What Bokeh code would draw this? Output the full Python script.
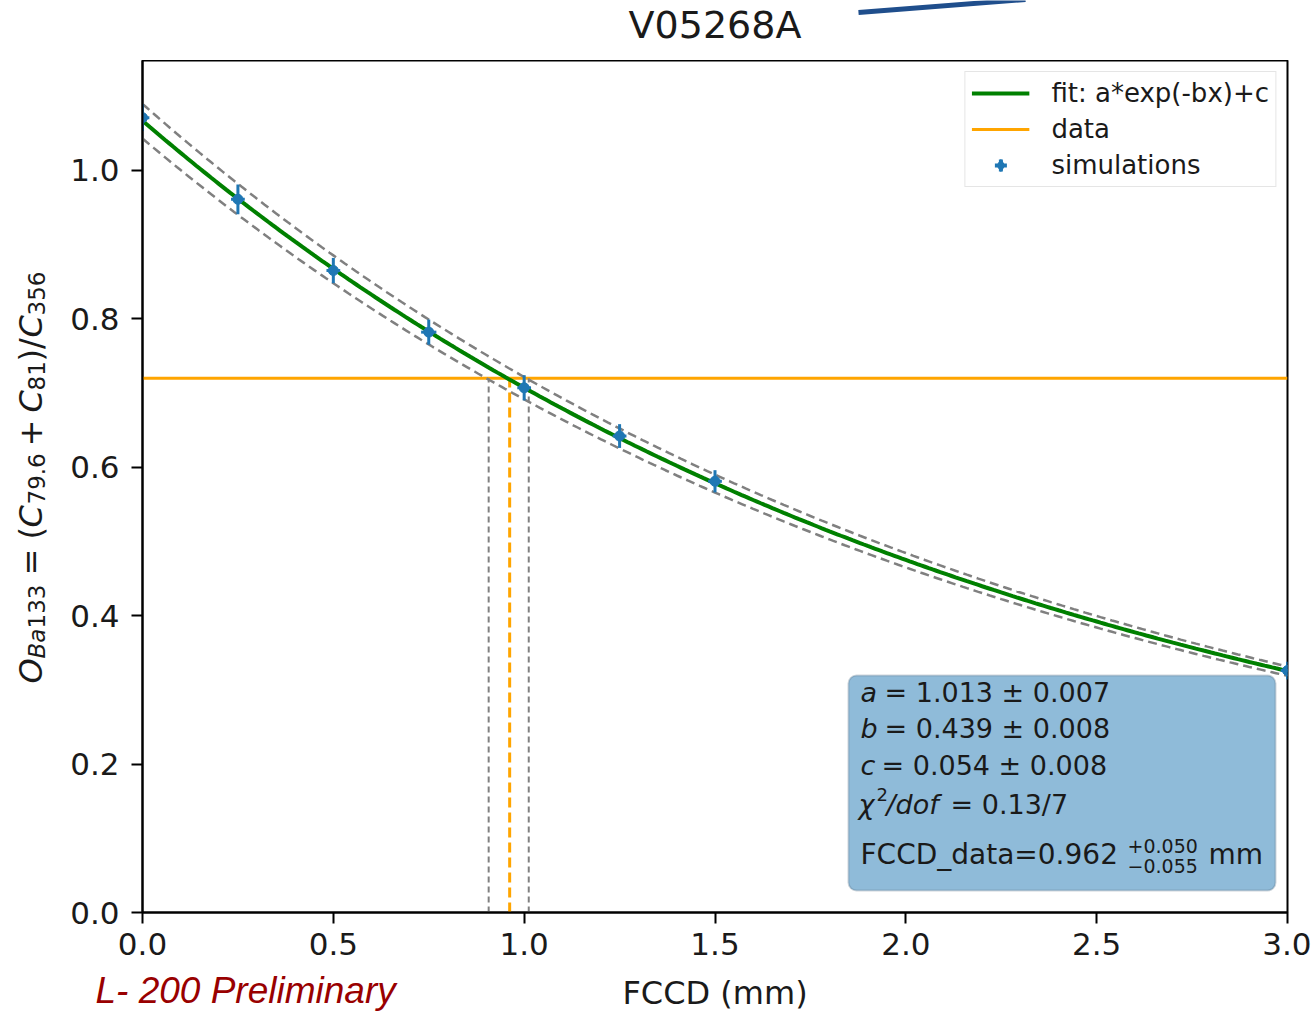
import numpy as np
from bokeh.plotting import figure
from bokeh.layouts import column, row
from bokeh.models import (Label, BoxAnnotation, Legend, LegendItem, FixedTicker,
                          PrintfTickFormatter, Range1d, Arrow)
from bokeh.embed import file_html
from bokeh.resources import INLINE

# ---------------- data ----------------
title_text = "V05268A"
sim_fccd = [0.0, 0.25, 0.5, 0.75, 1.0, 1.25, 1.5, 3.0]
sim_ratio = [1.071, 0.961, 0.865, 0.782, 0.707, 0.642, 0.581, 0.326]
sim_yerr = [0.018, 0.020, 0.017, 0.017, 0.017, 0.016, 0.015, 0.012]
sim_xerr = [0.018, 0.018, 0.018, 0.020, 0.018, 0.018, 0.018, 0.018]
fit_a, fit_a_err = 1.013, 0.007
fit_b, fit_b_err = 0.439, 0.008
fit_c, fit_c_err = 0.054, 0.008
chi2, dof = 0.13, 7
data_ratio = 0.720
fccd_data, fccd_err_up, fccd_err_low = 0.962, 0.050, 0.055
x_ticks = [0.0, 0.5, 1.0, 1.5, 2.0, 2.5, 3.0]
y_ticks = [0.0, 0.2, 0.4, 0.6, 0.8, 1.0]
x_lim = [0.0, 3.0]
y_lim = [0.0, 1.148]
x_label = "FCCD (mm)"
legend_labels = ["fit: a*exp(-bx)+c", "data", "simulations"]
watermark = "L- 200 Preliminary"

FONT = "DejaVu Sans"
TXT = "#1a1a1a"
W, H = 1311, 1011
FL, FR, FT, FB = 142, 1287, 60, 912   # frame edges in page pixels
YL_W = 56                              # width of the strip holding the y label
BOT_Y = 968                            # page y where the bottom strip starts
MID_H = BOT_Y - FT
MID_DV = 0.346                         # em-box middle above the baseline (DejaVu)


def helper_fig(w, h):
    f = figure(width=w, height=h, output_backend="svg", toolbar_location=None,
               x_axis_location=None, y_axis_location=None,
               min_border=0, min_border_left=0, min_border_right=0,
               min_border_top=0, min_border_bottom=0)
    f.outline_line_color = None
    f.xgrid.visible = False
    f.ygrid.visible = False
    f.background_fill_color = "white"
    f.border_fill_color = "white"
    return f


def put(fig, ox, bottom, cx, cy, text, size, style="normal", align="left",
        angle=0.0, color=TXT, font=FONT):
    """place a text whose em-box middle is at page pixel (cx, cy);
    ox = page x of the fig frame's left edge, bottom = page y of its bottom edge"""
    fig.add_layout(Label(x=cx - ox, y=bottom - cy, x_units="screen", y_units="screen",
                         text=text, text_font=font, text_font_size=f"{size}px",
                         text_font_style=style, text_align=align, text_baseline="middle",
                         angle=angle, text_color=color))


# ---------------- main plot ----------------
p = figure(width=W - YL_W, height=MID_H, x_range=Range1d(*x_lim), y_range=Range1d(*y_lim),
           output_backend="svg", toolbar_location=None,
           min_border_left=FL - YL_W, min_border_right=W - FR,
           min_border_top=0, min_border_bottom=BOT_Y - FB)
p.xgrid.visible = False
p.ygrid.visible = False
p.outline_line_color = "black"
p.outline_line_width = 2
p.background_fill_color = "white"
p.border_fill_color = "white"

for ax in (p.xaxis, p.yaxis):
    ax.major_tick_out = 11
    ax.major_tick_in = 0
    ax.minor_tick_out = 0
    ax.minor_tick_in = 0
    ax.axis_line_width = 2
    ax.major_tick_line_width = 2
    ax.major_label_text_font = FONT
    ax.major_label_text_font_size = "31px"
    ax.major_label_text_color = TXT
    ax.formatter = PrintfTickFormatter(format="%.1f")
p.xaxis.ticker = FixedTicker(ticks=x_ticks)
p.yaxis.ticker = FixedTicker(ticks=y_ticks)
p.yaxis.major_label_standoff = 12
p.xaxis.major_label_standoff = 9

xs = np.linspace(x_lim[0], x_lim[1], 301)


def model(x):
    return fit_a * np.exp(-fit_b * x) + fit_c


data_r = p.line(x_lim, [data_ratio, data_ratio], line_color="orange", line_width=3)
p.line(xs, model(xs - fccd_err_up), line_color="grey", line_width=2.5, line_dash="9 5")
p.line(xs, model(xs + fccd_err_low), line_color="grey", line_width=2.5, line_dash="9 5")
p.segment(x0=[fccd_data - fccd_err_low, fccd_data + fccd_err_up], y0=[0, 0],
          x1=[fccd_data - fccd_err_low, fccd_data + fccd_err_up], y1=[data_ratio, data_ratio],
          line_color="grey", line_width=2, line_dash="6 4")
p.segment(x0=[fccd_data], y0=[0], x1=[fccd_data], y1=[data_ratio],
          line_color="orange", line_width=3, line_dash="10 5")
fit_r = p.line(xs, model(xs), line_color="#008000", line_width=4)

sx = np.array(sim_fccd)
sy = np.array(sim_ratio)
ye = np.array(sim_yerr)
xe = np.array(sim_xerr)
BLUE = "#1f77b4"
p.segment(x0=sx, y0=sy - ye, x1=sx, y1=sy + ye, line_color=BLUE, line_width=3)
p.segment(x0=sx - xe, y0=sy, x1=sx + xe, y1=sy, line_color=BLUE, line_width=3)
sim_r = p.scatter(sx, sy, marker="circle", size=10, fill_color=BLUE, line_color=BLUE)
# zero-size companions: invisible on the plot, they only shape the legend glyph (error-bar star)
sim_dia = p.scatter(sx, sy, marker="diamond", size=0, fill_color=BLUE, line_color=BLUE)
sim_crs = p.scatter(sx, sy, marker="cross", size=0, line_color=BLUE, line_width=4)

legend = Legend(items=[LegendItem(label=legend_labels[0], renderers=[fit_r]),
                       LegendItem(label=legend_labels[1], renderers=[data_r]),
                       LegendItem(label=legend_labels[2], renderers=[sim_dia, sim_crs])],
                location="top_right", margin=11, padding=6, spacing=6,
                glyph_width=58, glyph_height=30, label_height=30, label_standoff=22,
                label_text_font=FONT, label_text_font_size="26px", label_text_color=TXT,
                border_line_color="#cccccc", border_line_width=1.5,
                background_fill_color="white", background_fill_alpha=0.85)
p.add_layout(legend)


# parameter box (page coordinates; baseline given)
def putm(cx, base, text, size, style="normal"):
    put(p, FL, FB, cx, base - MID_DV * size, text, size, style=style)


p.add_layout(BoxAnnotation(left=848 - FL, right=1275 - FL, top=FB - 675, bottom=FB - 890,
                           left_units="screen", right_units="screen",
                           top_units="screen", bottom_units="screen",
                           fill_color="#8fbbd9", fill_alpha=1.0,
                           line_color="#5e7488", line_width=2, border_radius=8))
BS = 27
putm(860, 701, "a", BS, style="italic")
putm(884, 701, f"= {fit_a:.3f} ± {fit_a_err:.3f}", BS)
putm(860, 737, "b", BS, style="italic")
putm(884, 737, f"= {fit_b:.3f} ± {fit_b_err:.3f}", BS)
putm(860, 774, "c", BS, style="italic")
putm(881, 774, f"= {fit_c:.3f} ± {fit_c_err:.3f}", BS)
putm(858, 813, "χ", BS, style="italic")
putm(876, 800, "2", 18)
putm(886, 813, "/dof", BS, style="italic")
putm(950, 813, f"= {chi2:.2f}/{dof}", BS)
putm(860, 864, f"FCCD_data={fccd_data:.3f}", 28)
putm(1127, 852, f"+{fccd_err_up:.3f}", 19)
putm(1127, 872, f"−{fccd_err_low:.3f}", 19)
putm(1208, 864, "mm", 28)

# ---------------- top strip: title ----------------
top = helper_fig(W, FT)
put(top, 0, FT, (FL + FR) / 2, 38 - MID_DV * 38, title_text, 38, align="center")
top.add_layout(Arrow(end=None, x_start=858, y_start=FT - 12, x_end=1025, y_end=FT + 1,
                     start_units="screen", end_units="screen",
                     line_color="#1f4e8c", line_width=5))

# ---------------- left strip: rotated y label (its frame is aligned with the main frame) ----
left = helper_fig(YL_W, MID_H)
R = np.pi / 2
MAIN, SUB = 32, 23
XM, XS = 30, 36
ylab = [("O", 683, MAIN, "italic", XM), ("Ba", 658, SUB, "italic", XS), ("133", 628, SUB, "normal", XS),
        ("=", 575, MAIN, "normal", XM), ("(", 539, MAIN, "normal", XM), ("C", 527, MAIN, "italic", XM),
        ("79.6", 504, SUB, "normal", XS), ("+", 446, MAIN, "normal", XM), ("C", 412, MAIN, "italic", XM),
        ("81", 390, SUB, "normal", XS), (")/", 361, MAIN, "normal", XM), ("C", 337, MAIN, "italic", XM),
        ("356", 315, SUB, "normal", XS)]
for t, yy, sz, st, xx in ylab:
    put(left, 0, FB, xx, yy, t, sz, style=st, angle=R)

# ---------------- bottom strip: x label and watermark ----------------
bot = helper_fig(W, H - BOT_Y)
strip_mid = (BOT_Y + H) / 2
put(bot, 0, H, (FL + FR) / 2, 992, x_label, 32, align="center")
put(bot, 0, H, 95, strip_mid, watermark, 37, style="italic",
    color="#990000", font="Liberation Sans")

layout = column(top, row(left, p), bot)
open("out.html", "w").write(file_html(layout, INLINE))
